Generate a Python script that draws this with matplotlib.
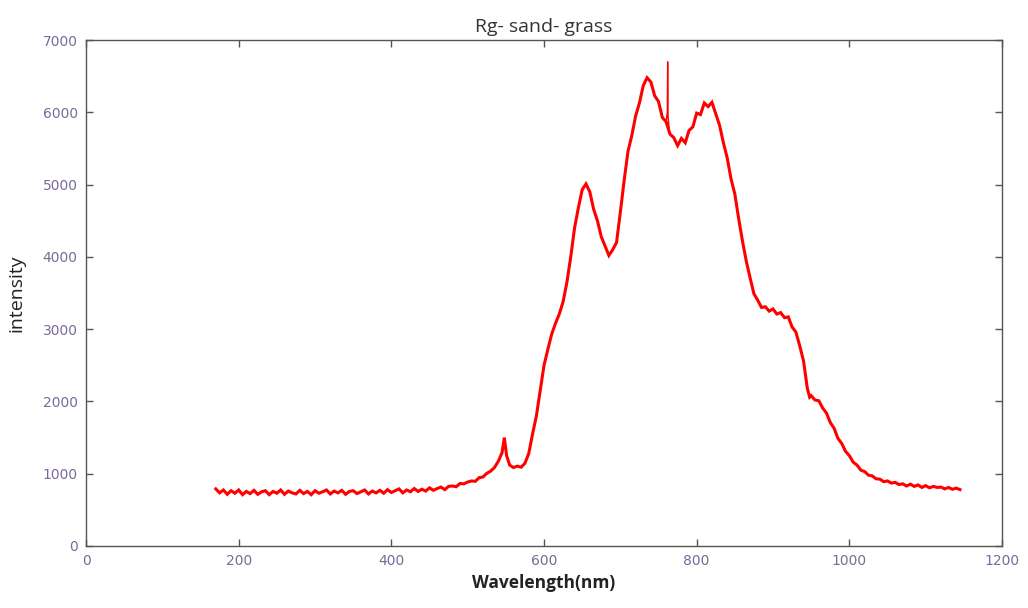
import matplotlib
matplotlib.use("Agg")
import matplotlib.pyplot as plt

title = "Rg- sand- grass"
x_label = "Wavelength(nm)"
y_label = "intensity"
x_ticks = [0, 200, 400, 600, 800, 1000, 1200]
y_ticks = [0, 1000, 2000, 3000, 4000, 5000, 6000, 7000]

wavelength = [
    170, 175, 180, 185, 190, 195, 200, 205, 210, 215, 220, 225, 230, 235, 240, 245,
    250, 255, 260, 265, 270, 275, 280, 285, 290, 295, 300, 305, 310, 315, 320, 325,
    330, 335, 340, 345, 350, 355, 360, 365, 370, 375, 380, 385, 390, 395, 400, 405,
    410, 415, 420, 425, 430, 435, 440, 445, 450, 455, 460, 465, 470, 475, 480, 485,
    490, 495, 500, 505, 510, 515, 520, 525, 530, 535, 540, 545, 548, 551, 555, 560,
    565, 570, 575, 580, 585, 590, 595, 600, 605, 610, 615, 620, 625, 630, 635, 640,
    645, 650, 655, 660, 665, 670, 675, 680, 685, 690, 695, 700, 705, 710, 715, 720,
    725, 730, 735, 740, 745, 750, 755, 760, 765, 770, 775, 780, 785,
    790, 795, 800, 805, 810, 815, 820, 825, 830, 835, 840, 845, 850, 855, 860, 865,
    870, 875, 880, 885, 890, 895, 900, 905, 910, 915, 920, 925, 930, 935, 940, 945,
    948, 950, 955, 960, 965, 970, 975, 980, 985, 990, 995, 1000, 1005, 1010, 1015, 1020,
    1025, 1030, 1035, 1040, 1045, 1050, 1055, 1060, 1065, 1070, 1075, 1080, 1085, 1090, 1095, 1100,
    1105, 1110, 1115, 1120, 1125, 1130, 1135, 1140, 1145,
]

intensity = [
    790, 735, 775, 715, 765, 730, 775, 710, 755, 725, 770, 715, 750, 765, 710, 755,
    730, 775, 715, 760, 735, 720, 770, 725, 755, 710, 765, 730, 750, 775, 720, 760,
    735, 770, 715, 755, 765, 725, 750, 775, 720, 760, 735, 770, 730, 780, 740, 765,
    790, 735, 775, 750, 795, 755, 785, 760, 805, 770, 795, 815, 780, 825, 830, 820,
    865, 860, 885, 900, 895, 945, 955, 1005, 1035, 1085, 1170, 1290, 1500, 1250, 1120, 1085,
    1105, 1090, 1145, 1280, 1550, 1800, 2150, 2500, 2720, 2930, 3080, 3210, 3380, 3650, 4000, 4400,
    4680, 4930, 5010, 4900, 4660, 4500, 4280, 4150, 4020, 4100, 4200, 4620, 5060, 5460, 5680, 5950,
    6130, 6370, 6480, 6420, 6230, 6150, 5930, 5870, 5700, 5650, 5540, 5640, 5580,
    5750, 5800, 5990, 5970, 6130, 6080, 6140, 5980, 5820, 5580, 5370, 5080, 4870, 4530, 4220, 3940,
    3710, 3490, 3400, 3300, 3310, 3250, 3280, 3210, 3230, 3160, 3170, 3030, 2960, 2770, 2560, 2180,
    2060, 2080, 2020, 2010, 1910, 1840, 1710, 1630, 1490, 1420, 1310, 1250, 1160, 1120, 1050, 1030,
    980, 970, 930, 925, 890, 900, 870, 880, 850, 860, 830, 855, 825, 845, 810, 835,
    805, 825, 810, 815, 790, 810, 785, 800, 780,
]

# narrow emission spike near 762 nm
spike_wavelength = [760, 761.5, 762, 762.5, 764]
spike_intensity = [5870, 6000, 6700, 5950, 5760]

fig = plt.figure(figsize=(10.28, 6.08), dpi=100)
ax = fig.add_axes([0.0837, 0.102, 0.891, 0.832])

ax.plot(wavelength, intensity, color="#ff0000", linewidth=2.2, solid_joinstyle="miter")
ax.plot(spike_wavelength, spike_intensity, color="#ff0000", linewidth=1.0)

ax.set_xlim(0, 1200)
ax.set_ylim(0, 7000)
ax.set_xticks(x_ticks)
ax.set_yticks(y_ticks)
ax.set_xticklabels([str(t) for t in x_ticks])
ax.set_yticklabels([str(t) for t in y_ticks])

frame_color = "#555555"
for s in ax.spines.values():
    s.set_color(frame_color)
    s.set_linewidth(1.0)
ax.tick_params(direction="in", length=5, width=1, color=frame_color,
               top=True, right=True, labelsize=10, labelcolor="#7a6a9a", pad=6)
for lbl in ax.get_xticklabels() + ax.get_yticklabels():
    lbl.set_fontfamily("Liberation Sans Narrow")

ax.set_title(title, fontsize=14, color="#333333", family="Open Sans", pad=6)
ax.set_xlabel(x_label, fontsize=12.5, fontweight="bold", color="#222222",
              family="Open Sans", labelpad=4)
ax.set_ylabel(y_label, fontsize=14, color="#222222", family="Open Sans", labelpad=12)

fig.savefig("out.png", dpi=100)
